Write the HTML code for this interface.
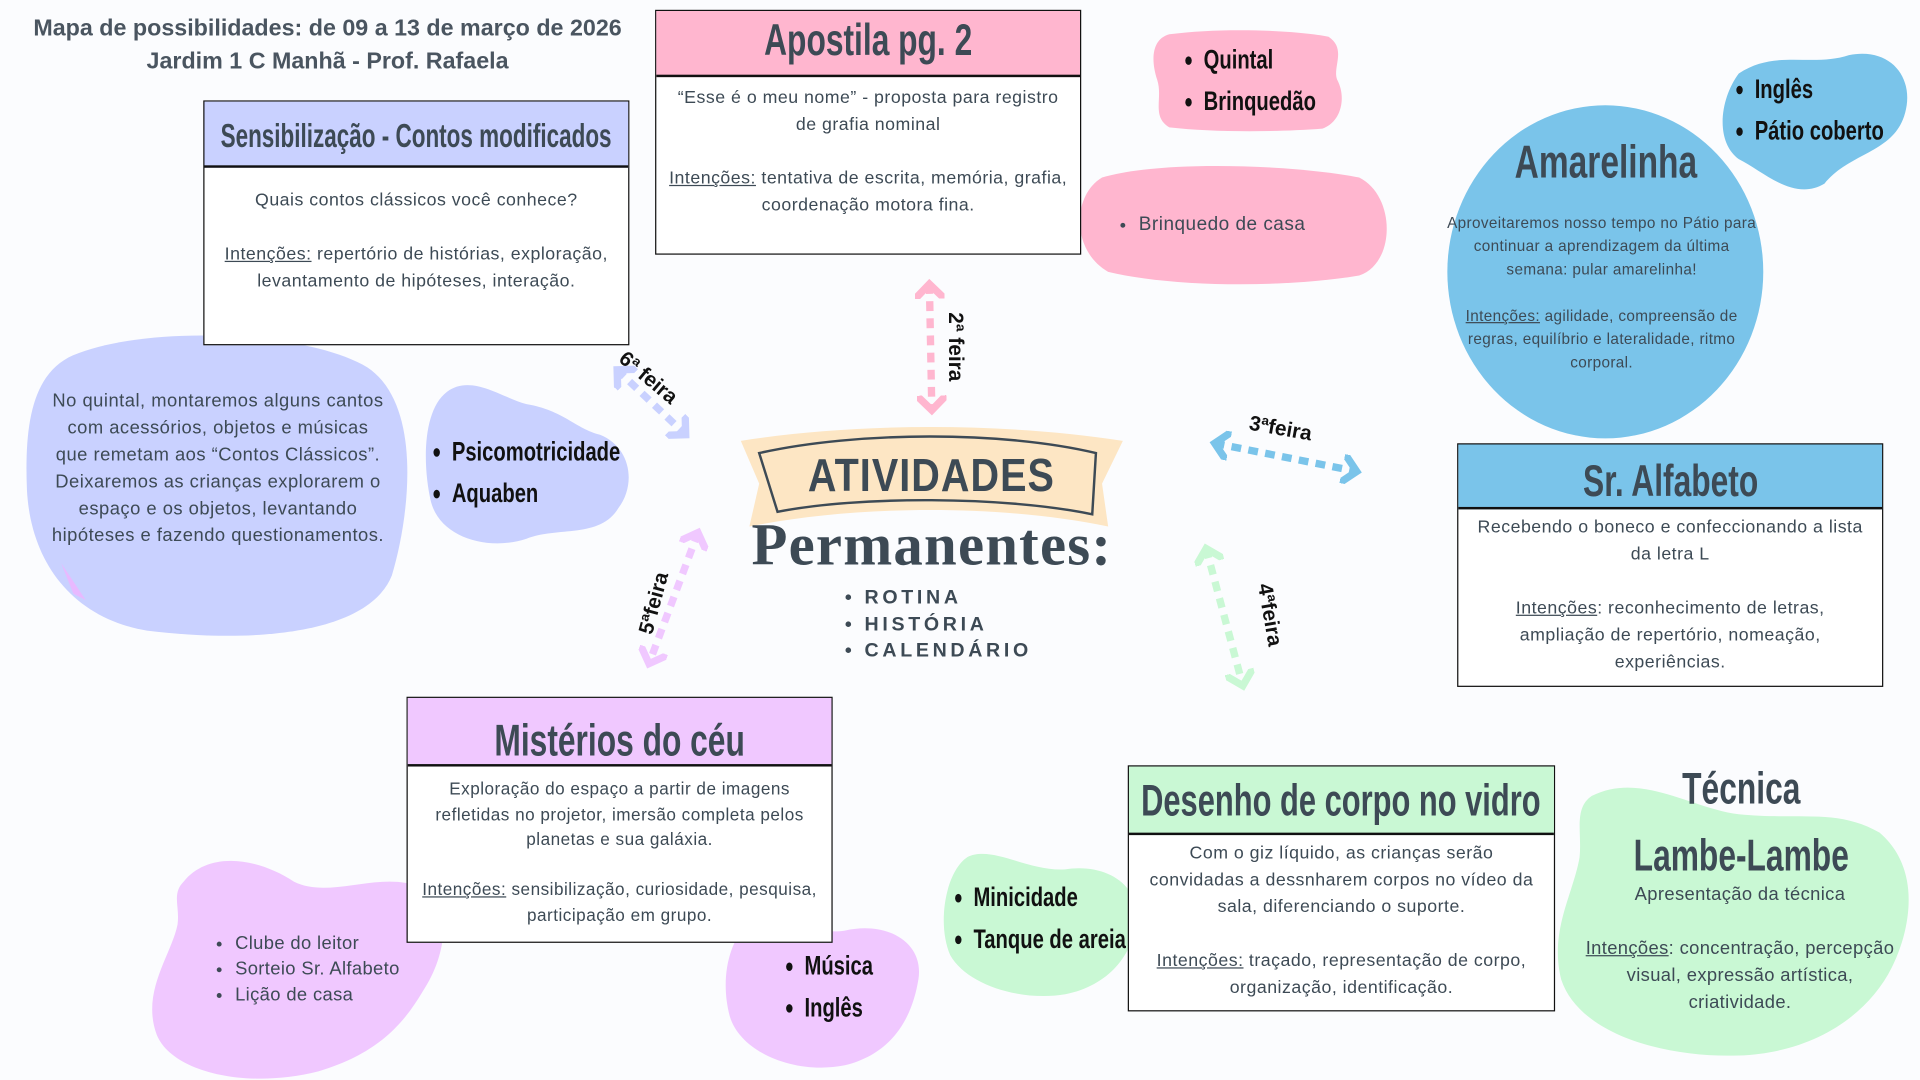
<!DOCTYPE html>
<html><head><meta charset="utf-8"><style>
html,body{margin:0;padding:0;background:#fbfcfe;overflow:hidden}
#w{position:absolute;left:0;top:0;width:1568px;height:882px;transform:scale(1.22449);transform-origin:0 0;font-family:"Liberation Sans",sans-serif;color:#3d4a55}
.a{position:absolute}
.box{position:absolute;border:1.5px solid #111;background:#fff;box-sizing:border-box}
.hd{border-bottom:2px solid #111;box-sizing:border-box;display:flex;justify-content:center;font-weight:bold;color:#3d4a55;white-space:nowrap}
.hd span,.c{display:inline-block;transform:scaleX(.72);transform-origin:50% 50%;flex:none}
.bd{text-align:center;font-size:14.5px;line-height:22px;color:#3d4a55;padding:6px 10px;letter-spacing:0.4px}
.t{font-weight:bold;color:#111;white-space:nowrap;transform:scaleX(.75);transform-origin:0 0}
u{text-decoration:underline}
ul{margin:0;padding-left:20px}
</style></head><body><div id="w">
<svg class="a" style="left:0;top:0" width="1568" height="882">
<defs>
<marker id="m" markerWidth="4" markerHeight="4" refX="2" refY="2" orient="auto-start-reverse" markerUnits="strokeWidth"><path d="M0,0 L2,2 L0,4" fill="none" stroke="context-stroke" stroke-width="1"/></marker>
</defs>
<path d="M955,28 C1000,22 1060,25 1085,30 C1100,40 1088,55 1092,65 C1100,80 1095,100 1080,105 C1040,108 990,108 955,104 C940,95 950,80 945,65 C940,50 940,32 955,28Z" fill="#ffb6cf"/>
<path d="M900,145 C950,130 1060,135 1110,145 C1140,160 1140,215 1110,225 C1050,235 960,235 905,222 C875,205 875,160 900,145Z" fill="#ffb6cf"/>
<path d="M1420,60 C1450,40 1480,55 1510,45 C1545,38 1565,65 1555,95 C1545,125 1510,125 1490,150 C1465,165 1440,140 1420,130 C1400,115 1405,80 1420,60Z" fill="#7ac4ea"/>
<ellipse cx="1311" cy="222" rx="129" ry="136" fill="#7ac4ea"/>
<path d="M60,290 C120,265 250,270 300,300 C345,330 335,420 320,470 C300,520 200,525 120,515 C60,505 25,460 22,400 C20,350 25,305 60,290Z" fill="#c9d1ff"/>
<path d="M50,460 L70,490 L60,485Z" fill="#e8b9ff"/>
<path d="M365,320 C385,305 410,325 430,330 C460,335 470,350 490,355 C515,365 520,395 505,415 C490,440 455,430 430,440 C400,450 360,440 352,410 C345,380 345,335 365,320Z" fill="#c9d1ff"/>
<path d="M150,720 C170,695 210,700 240,720 C270,735 310,710 345,725 C370,740 365,780 345,810 C330,835 310,860 260,875 C200,890 140,875 128,845 C115,810 140,780 145,755 C147,740 140,730 150,720Z" fill="#f0c8ff"/>
<path d="M610,755 C630,740 660,765 690,760 C725,752 755,770 750,800 C745,830 730,860 690,870 C650,878 605,860 596,830 C588,800 595,770 610,755Z" fill="#f0c8ff"/>
<path d="M790,700 C810,690 840,712 870,710 C900,705 930,720 928,750 C926,780 905,805 870,812 C835,818 790,805 776,780 C765,755 772,712 790,700Z" fill="#c9f8d4"/>
<path d="M1300,650 C1340,630 1380,660 1420,665 C1470,670 1500,660 1535,680 C1570,710 1560,760 1545,790 C1525,830 1480,860 1420,862 C1360,864 1290,845 1275,800 C1265,760 1285,730 1290,700 C1292,680 1285,660 1300,650Z" fill="#c9f8d4"/>
<path d="M605,360 C700,345 820,345 917,360 L900,395 L905,430 C820,412 700,412 612,430 L620,395Z" fill="#fde6c4"/>
<path d="M620,370 C700,352 820,352 895,370 L892,420 C820,405 700,405 635,418Z" fill="none" stroke="#3d4a55" stroke-width="2"/>
<g fill="none" stroke-width="6" stroke-dasharray="8,6" marker-start="url(#m)" marker-end="url(#m)">
<line x1="759" y1="232" x2="761" y2="335" stroke="#ffb6cf"/>
<line x1="504" y1="302" x2="560" y2="355" stroke="#c9d1ff"/>
<line x1="992" y1="362" x2="1108" y2="385" stroke="#7ac4ea"/>
<line x1="570" y1="435" x2="530" y2="542" stroke="#f0c8ff"/>
<line x1="985" y1="448" x2="1015" y2="560" stroke="#c9f8d4"/>
</g>
</svg>
<div class="a" style="left:0;top:10px;width:535px;text-align:center;font-weight:bold;font-size:19px;line-height:27px;color:#4a5560">Mapa de possibilidades: de 09 a 13 de março de 2026<br>Jardim 1 C Manhã - Prof. Rafaela</div>

<div class="box" style="left:535px;top:8px;width:348px;height:200px"><div class="hd" style="background:#ffb6cf;height:54px;line-height:48px;font-size:36px"><span>Apostila pg. 2</span></div><div class="bd">“Esse é o meu nome” - proposta para registro de grafia nominal<br><br><u>Intenções:</u> tentativa de escrita, memória, grafia, coordenação motora fina.</div></div>

<div class="box" style="left:166px;top:82px;width:348px;height:200px"><div class="hd" style="background:#c9d1ff;height:54px;line-height:56px;font-size:27px"><span style="transform:scaleX(.68)">Sensibilização - Contos modificados</span></div><div class="bd" style="padding-top:16px">Quais contos clássicos você conhece?<br><br><u>Intenções:</u> repertório de histórias, exploração, levantamento de hipóteses, interação.</div></div>

<div class="box" style="left:1190px;top:362px;width:348px;height:199px"><div class="hd" style="background:#7ac4ea;height:53px;line-height:60px;font-size:36px"><span>Sr. Alfabeto</span></div><div class="bd" style="padding-top:4px">Recebendo o boneco e confeccionando a lista da letra L<br><br><u>Intenções</u>: reconhecimento de letras, ampliação de repertório, nomeação, experiências.</div></div>

<div class="box" style="left:332px;top:569px;width:348px;height:201px"><div class="hd" style="background:#f0c8ff;height:56px;line-height:70px;font-size:36px"><span>Mistérios do céu</span></div><div class="bd" style="font-size:14px;line-height:20.5px;padding-top:8px">Exploração do espaço a partir de imagens refletidas no projetor, imersão completa pelos planetas e sua galáxia.<br><br><u>Intenções:</u> sensibilização, curiosidade, pesquisa, participação em grupo.</div></div>

<div class="box" style="left:921px;top:625px;width:349px;height:201px"><div class="hd" style="background:#c9f8d4;height:56px;line-height:56px;font-size:36px"><span style="transform:scaleX(.7)">Desenho de corpo no vidro</span></div><div class="bd" style="padding-top:4px">Com o giz líquido, as crianças serão convidadas a dessnharem corpos no vídeo da sala, diferenciando o suporte.<br><br><u>Intenções:</u> traçado, representação de corpo, organização, identificação.</div></div>

<div class="a t" style="left:968px;top:32px;font-size:22px;line-height:34px"><ul><li>Quintal</li><li>Brinquedão</li></ul></div>
<div class="a" style="left:910px;top:175px;font-size:15.5px;letter-spacing:.4px"><ul><li>Brinquedo de casa</li></ul></div>
<div class="a t" style="left:1418px;top:56px;font-size:22px;line-height:34px"><ul><li>Inglês</li><li>Pátio coberto</li></ul></div>
<div class="a" style="left:1183px;top:112px;width:257px;text-align:center;font-size:38px;font-weight:bold;color:#3d4a55"><span class="c">Amarelinha</span></div>
<div class="a" style="left:1180px;top:173px;width:256px;text-align:center;font-size:12.5px;line-height:19px;letter-spacing:.3px">Aproveitaremos nosso tempo no Pátio para continuar a aprendizagem da última semana: pular amarelinha!<br><br><u>Intenções:</u> agilidade, compreensão de regras, equilíbrio e lateralidade, ritmo corporal.</div>
<div class="a" style="left:42px;top:317px;width:272px;text-align:center;font-size:15px;line-height:22px;letter-spacing:.4px">No quintal, montaremos alguns cantos com acessórios, objetos e músicas que remetam aos “Contos Clássicos”. Deixaremos as crianças explorarem o espaço e os objetos, levantando hipóteses e fazendo questionamentos.</div>
<div class="a t" style="left:354px;top:352px;font-size:22px;line-height:34px"><ul><li>Psicomotricidade</li><li>Aquaben</li></ul></div>
<div class="a" style="left:605px;top:368px;width:312px;text-align:center;font-weight:bold;font-size:38px;color:#3d4a55;letter-spacing:1px"><span class="c" style="transform:scaleX(.85)">ATIVIDADES</span></div>
<div class="a" style="left:598px;top:418px;width:326px;text-align:center;font-family:'Liberation Serif',serif;font-weight:bold;font-size:48px;color:#3d4a55;letter-spacing:1px">Permanentes:</div>
<div class="a" style="left:690px;top:478px;font-weight:bold;font-size:16px;line-height:21.5px;letter-spacing:3px;color:#3d4a55">• ROTINA<br>• HISTÓRIA<br>• CALENDÁRIO</div>
<div class="a" style="font-weight:bold;color:#111;font-size:17px;transform:rotate(90deg);transform-origin:0 0;left:790px;top:255px">2ª feira</div>
<div class="a" style="font-weight:bold;color:#111;left:514px;top:283px;font-size:17px;transform:rotate(40deg);transform-origin:0 0">6ª feira</div>
<div class="a" style="font-weight:bold;color:#111;left:1022px;top:336px;font-size:17px;transform:rotate(10deg);transform-origin:0 0">3ªfeira</div>
<div class="a" style="font-weight:bold;color:#111;left:518px;top:515px;font-size:17px;transform:rotate(-75deg);transform-origin:0 0">5ªfeira</div>
<div class="a" style="font-weight:bold;color:#111;left:1042px;top:475px;font-size:17px;transform:rotate(80deg);transform-origin:0 0">4ªfeira</div>
<div class="a" style="left:172px;top:760px;font-size:15px;line-height:21px;letter-spacing:.3px"><ul><li>Clube do leitor</li><li>Sorteio Sr. Alfabeto</li><li>Lição de casa</li></ul></div>
<div class="a t" style="left:642px;top:772px;font-size:22px;line-height:34px"><ul><li>Música</li><li>Inglês</li></ul></div>
<div class="a t" style="left:780px;top:716px;font-size:22px;line-height:34px"><ul><li>Minicidade</li><li>Tanque de areia</li></ul></div>
<div class="a" style="left:1280px;top:616px;width:285px;text-align:center;font-weight:bold;font-size:36px;line-height:55px;color:#3d4a55"><span class="c">Técnica</span><br><span class="c">Lambe-Lambe</span></div>
<div class="a" style="left:1290px;top:720px;width:262px;text-align:center;font-size:15px;line-height:22px;letter-spacing:.3px">Apresentação da técnica<br><br><u>Intenções</u>: concentração, percepção visual, expressão artística, criatividade.</div>
</div></body></html>
